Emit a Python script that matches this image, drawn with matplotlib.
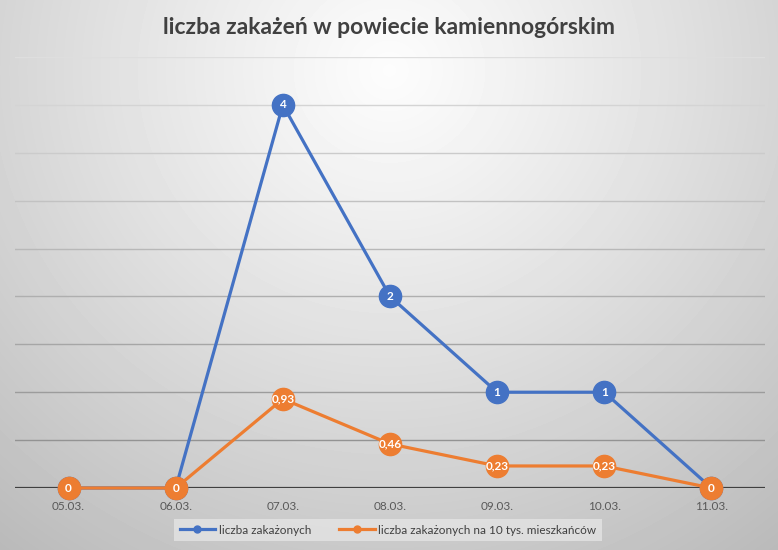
import matplotlib.pyplot as plt
import numpy as np
from matplotlib.lines import Line2D

dates = ["05.03.", "06.03.", "07.03.", "08.03.", "09.03.", "10.03.", "11.03."]
cases = [0, 0, 4, 2, 1, 1, 0]
cases_per_10k = [0, 0, 0.93, 0.46, 0.23, 0.23, 0]
grid_levels = [0.5, 1.0, 1.5, 2.0, 2.5, 3.0, 3.5, 4.0, 4.5]

blue = "#4472C4"
orange = "#ED7D31"
plt.rcParams["font.family"] = ["Lato", "DejaVu Sans"]

fig = plt.figure(figsize=(7.78, 5.5), dpi=100)

# radial grey background, light in the upper middle
bg = fig.add_axes([0, 0, 1, 1], zorder=-10)
yy, xx = np.mgrid[0:550, 0:778]
r = np.sqrt(((xx - 389) / 560.0) ** 2 + ((yy - 70) / 540.0) ** 2)
shade = 0.99 - 0.23 * np.clip(r, 0, 1.2) ** 1.1
bg.imshow(shade, cmap="gray", vmin=0, vmax=1, aspect="auto", extent=[0, 778, 550, 0])
bg.set_axis_off()

ax = fig.add_axes([15 / 778, 62 / 550, 750 / 778, 431 / 550])
ax.patch.set_alpha(0)
x = np.arange(len(dates))
ax.set_xlim(-0.5, len(dates) - 0.5)
ax.set_ylim(0, 4.5)

# gridlines get darker towards the bottom, like the original
for g in grid_levels:
    c = 0.87 - 0.33 * (1 - g / 4.5)
    ax.axhline(g, color=(c, c, c), lw=1, zorder=1)
ax.axhline(0, color="#404040", lw=1.6, zorder=2)

ax.plot(x, cases, color=blue, lw=2.3, marker="o", ms=16, mec=blue, mfc=blue, zorder=3,
        clip_on=False)
ax.plot(x, cases_per_10k, color=orange, lw=2.3, marker="o", ms=16, mec=orange, mfc=orange, zorder=4,
        clip_on=False)

for xi, v in zip(x, cases):
    if v > 0:
        ax.text(xi, v, str(v), color="white", ha="center", va="center", fontsize=8.5,
                fontweight="bold", zorder=5)
for xi, v in zip(x, cases_per_10k):
    lbl = "0" if v == 0 else ("%.2f" % v).replace(".", ",")
    ax.text(xi, v, lbl, color="white", ha="center", va="center", fontsize=8.5,
            fontweight="bold", zorder=6)

ax.set_xticks(x)
ax.set_xticklabels(dates, fontsize=8.5, color="#595959")
ax.tick_params(axis="x", length=0, pad=9)
ax.set_yticks([])
for s in ax.spines.values():
    s.set_visible(False)

fig.text(0.5, 1 - 27 / 550, "liczba zakażeń w powiecie kamiennogórskim", ha="center", va="center",
         fontsize=16.5, fontweight="bold", color="#404040")

handles = [Line2D([], [], color=blue, lw=2.3, marker="o", ms=5),
           Line2D([], [], color=orange, lw=2.3, marker="o", ms=5)]
leg = fig.legend(handles, ["liczba zakażonych", "liczba zakażonych na 10 tys. mieszkańców"],
                 loc="center", bbox_to_anchor=(388 / 778, 1 - 530 / 550), ncol=2, frameon=True,
                 fontsize=8.5, handlelength=3.0, handletextpad=0.3, columnspacing=2.4,
                 borderpad=0.45, fancybox=False)
leg.get_frame().set_facecolor("#e4e4e4")
leg.get_frame().set_edgecolor("none")
for t in leg.get_texts():
    t.set_color("#404040")

fig.savefig("out.png", dpi=100)
